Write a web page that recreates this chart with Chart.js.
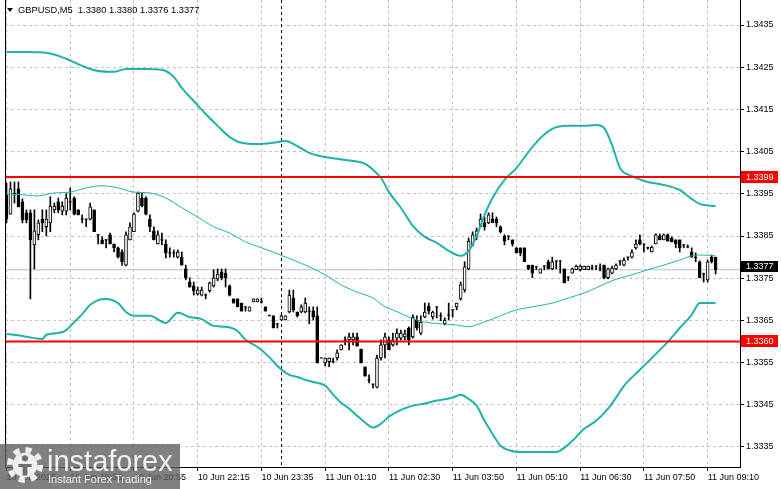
<!DOCTYPE html>
<html><head><meta charset="utf-8">
<script src="https://cdn.jsdelivr.net/npm/chart.js@4.4.1/dist/chart.umd.min.js"></script>
<style>
html,body{margin:0;padding:0;background:#fff;overflow:hidden;}
#wrap{position:relative;width:781px;height:489px;}
canvas{position:absolute;left:0;top:0;}
#title{position:absolute;left:7px;top:5px;font:9.3px 'Liberation Sans',Arial,sans-serif;color:#000;white-space:pre;line-height:11px;}
#title .tri{display:inline-block;width:0;height:0;border-left:3px solid transparent;border-right:3px solid transparent;border-top:4px solid #000;margin-right:5px;vertical-align:1px;}
#wm{position:absolute;left:0;top:444px;width:180px;height:45px;background:rgba(96,96,96,0.8);}
#wm svg{position:absolute;left:6px;top:2px;}
#wm .big{position:absolute;left:47px;top:3px;font:29px 'Liberation Sans',Arial,sans-serif;line-height:28px;color:#f2f2f2;white-space:nowrap;}
#wm .small{position:absolute;left:48px;top:29px;font:11px 'Liberation Sans',Arial,sans-serif;line-height:12px;color:#eeeeee;white-space:nowrap;}
</style></head>
<body>
<div id="wrap">
<canvas id="c" width="781" height="489"></canvas>
<div id="title"></div>
<div id="wm">
<svg width="38" height="38" viewBox="0 0 40 40">
<circle cx="20" cy="20" r="16" fill="none" stroke="#efefef" stroke-width="6" stroke-dasharray="6.3 6.27"/>
<circle cx="20" cy="20" r="13" fill="#efefef"/>
<circle cx="20" cy="13" r="3.2" fill="#6e6e6e"/>
<path d="M13 19 h14 v3 h-4.5 v9 h-5 v-9 h-4.5 z" fill="#6e6e6e"/>
</svg>
<div class="big">instaforex</div>
<div class="small">Instant Forex Trading</div>
</div>
</div>
<script>
// ---------- DATA ----------
const symbol = 'GBPUSD';
const timeframe = 'M5';

const openP = [1.33947,1.33902,1.33952,1.33962,1.33931,1.33905,1.33905,1.33829,1.33853,1.33890,
1.33872,1.33881,1.33912,1.33931,1.33909,1.33909,1.33931,1.33940,1.33912,1.33890,
1.33890,1.33890,1.33912,1.33853,1.33841,1.33841,1.33853,1.33831,1.33822,1.33812,
1.33781,1.33841,1.33860,1.33909,1.33940,1.33940,1.33890,1.33862,1.33831,1.33841,
1.33831,1.33810,1.33810,1.33800,1.33800,1.33772,1.33741,1.33732,1.33713,1.33710,
1.33710,1.33720,1.33732,1.33748,1.33765,1.33762,1.33732,1.33701,1.33701,1.33691,
1.33682,1.33672,1.33694,1.33694,1.33694,1.33682,1.33661,1.33661,1.33642,1.33651,
1.33651,1.33670,1.33703,1.33670,1.33670,1.33670,1.33672,1.33672,1.33661,1.33561,
1.33549,1.33552,1.33552,1.33561,1.33580,1.33604,1.33604,1.33604,1.33611,1.33582,
1.33540,1.33509,1.33499,1.33492,1.33561,1.33592,1.33604,1.33592,1.33608,1.33608,
1.33611,1.33632,1.33611,1.33651,1.33620,1.33658,1.33684,1.33658,1.33682,1.33661,
1.33642,1.33663,1.33675,1.33682,1.33701,1.33722,1.33772,1.33829,1.33848,1.33872,
1.33881,1.33881,1.33890,1.33890,1.33872,1.33850,1.33850,1.33841,1.33822,1.33822,
1.33822,1.33781,1.33781,1.33777,1.33762,1.33779,1.33789,1.33772,1.33791,1.33791,
1.33772,1.33753,1.33762,1.33770,1.33770,1.33770,1.33770,1.33774,1.33779,1.33774,
1.33781,1.33751,1.33762,1.33772,1.33791,1.33781,1.33800,1.33800,1.33822,1.33841,
1.33831,1.33822,1.33812,1.33831,1.33850,1.33841,1.33853,1.33845,1.33841,1.33841,
1.33829,1.33824,1.33812,1.33800,1.33789,1.33760,1.33746,1.33800,1.3380];

const highP = [1.33976,1.33978,1.33978,1.33978,1.33938,1.33912,1.33912,1.33912,1.33888,1.33912,
1.33912,1.33943,1.33928,1.33940,1.33931,1.33950,1.33964,1.33943,1.33912,1.33900,
1.33890,1.33928,1.33912,1.33853,1.33848,1.33841,1.33857,1.33831,1.33824,1.33817,
1.33860,1.33881,1.33905,1.33954,1.33952,1.33943,1.33900,1.33872,1.33862,1.33857,
1.33841,1.33822,1.33817,1.33817,1.33812,1.33781,1.33751,1.33741,1.33729,1.33729,
1.33713,1.33741,1.33770,1.33772,1.33772,1.33772,1.33734,1.33701,1.33701,1.33691,
1.33682,1.33682,1.33701,1.33701,1.33703,1.33682,1.33663,1.33661,1.33642,1.33663,
1.33661,1.33722,1.33722,1.33670,1.33687,1.33703,1.33682,1.33682,1.33682,1.33561,
1.33561,1.33561,1.33561,1.33580,1.33592,1.33611,1.33620,1.33620,1.33620,1.33582,
1.33540,1.33521,1.33499,1.33568,1.33604,1.33620,1.33611,1.33620,1.33630,1.33627,
1.33627,1.33635,1.33663,1.33661,1.33661,1.33691,1.33691,1.33672,1.33682,1.33668,
1.33656,1.33691,1.33675,1.33691,1.33741,1.33789,1.33845,1.33860,1.33869,1.33902,
1.33895,1.33905,1.33905,1.33895,1.33874,1.33853,1.33850,1.33841,1.33822,1.33822,
1.33822,1.33781,1.33781,1.33777,1.33772,1.33779,1.33793,1.33800,1.33791,1.33791,
1.33772,1.33753,1.33774,1.33781,1.33781,1.33779,1.33779,1.33781,1.33779,1.33784,
1.33781,1.33774,1.33779,1.33784,1.33791,1.33798,1.33800,1.33817,1.33841,1.33853,
1.33831,1.33824,1.33826,1.33855,1.33855,1.33855,1.33855,1.33848,1.33841,1.33841,
1.33829,1.33829,1.33822,1.33810,1.33791,1.33762,1.33793,1.33805,1.3380];

const lowP = [1.33881,1.33902,1.33928,1.33919,1.33881,1.33881,1.33701,1.33772,1.33841,1.33860,
1.33850,1.33860,1.33905,1.33905,1.33900,1.33900,1.33912,1.33900,1.33900,1.33881,
1.33872,1.33888,1.33860,1.33831,1.33831,1.33822,1.33831,1.33812,1.33798,1.33781,
1.33779,1.33841,1.33860,1.33907,1.33919,1.33900,1.33860,1.33841,1.33831,1.33829,
1.33798,1.33800,1.33800,1.33798,1.33781,1.33746,1.33729,1.33710,1.33710,1.33708,
1.33701,1.33717,1.33729,1.33744,1.33746,1.33729,1.33708,1.33691,1.33682,1.33672,
1.33672,1.33672,1.33694,1.33694,1.33691,1.33672,1.33661,1.33632,1.33632,1.33651,
1.33651,1.33668,1.33670,1.33658,1.33668,1.33668,1.33642,1.33651,1.33549,1.33561,
1.33542,1.33540,1.33549,1.33556,1.33580,1.33592,1.33580,1.33592,1.33589,1.33549,
1.33518,1.33502,1.33490,1.33490,1.33556,1.33561,1.33580,1.33589,1.33592,1.33604,
1.33604,1.33592,1.33608,1.33627,1.33616,1.33656,1.33665,1.33653,1.33656,1.33649,
1.33639,1.33651,1.33658,1.33675,1.33698,1.33717,1.33770,1.33826,1.33841,1.33872,
1.33864,1.33879,1.33886,1.33872,1.33857,1.33829,1.33841,1.33826,1.33810,1.33803,
1.33789,1.33770,1.33751,1.33770,1.33762,1.33770,1.33772,1.33770,1.33772,1.33762,
1.33739,1.33744,1.33762,1.33770,1.33767,1.33770,1.33770,1.33770,1.33770,1.33767,
1.33748,1.33748,1.33760,1.33770,1.33781,1.33779,1.33793,1.33798,1.33819,1.33829,
1.33812,1.33819,1.33812,1.33831,1.33841,1.33841,1.33838,1.33836,1.33822,1.33812,
1.33822,1.33822,1.33800,1.33789,1.33751,1.33741,1.33741,1.33786,1.3376];

const closeP = [1.33890,1.33962,1.33950,1.33919,1.33888,1.33888,1.33841,1.33862,1.33881,1.33881,
1.33890,1.33921,1.33921,1.33912,1.33921,1.33940,1.33931,1.33902,1.33900,1.33890,
1.33890,1.33919,1.33860,1.33853,1.33831,1.33841,1.33831,1.33822,1.33800,1.33789,
1.33853,1.33872,1.33902,1.33952,1.33921,1.33902,1.33872,1.33841,1.33853,1.33841,
1.33810,1.33810,1.33810,1.33812,1.33781,1.33751,1.33729,1.33720,1.33722,1.33722,
1.33710,1.33739,1.33751,1.33760,1.33751,1.33751,1.33710,1.33691,1.33682,1.33672,
1.33682,1.33682,1.33701,1.33701,1.33694,1.33672,1.33661,1.33632,1.33642,1.33661,
1.33661,1.33710,1.33675,1.33661,1.33682,1.33691,1.33672,1.33658,1.33549,1.33561,
1.33561,1.33561,1.33552,1.33573,1.33592,1.33604,1.33611,1.33611,1.33589,1.33549,
1.33518,1.33509,1.33499,1.33561,1.33592,1.33611,1.33580,1.33604,1.33620,1.33620,
1.33618,1.33604,1.33658,1.33632,1.33646,1.33670,1.33672,1.33670,1.33682,1.33661,
1.33651,1.33663,1.33675,1.33691,1.33734,1.33777,1.33838,1.33853,1.33862,1.33890,
1.33872,1.33900,1.33881,1.33881,1.33860,1.33838,1.33850,1.33831,1.33810,1.33810,
1.33789,1.33772,1.33762,1.33777,1.33772,1.33779,1.33772,1.33789,1.33791,1.33791,
1.33739,1.33753,1.33772,1.33779,1.33779,1.33779,1.33779,1.33774,1.33779,1.33774,
1.33751,1.33772,1.33774,1.33781,1.33791,1.33793,1.33800,1.33812,1.33831,1.33831,
1.33831,1.33822,1.33824,1.33853,1.33841,1.33853,1.33838,1.33836,1.33831,1.33822,
1.33829,1.33824,1.33800,1.33798,1.33751,1.33760,1.33789,1.33789,1.3377];

// Bollinger bands: [bar index, price]
const upperBand = [[0,1.34286],[5,1.34286],[10,1.34284],[15,1.34270],[19,1.34253],[23,1.34241],[27,1.34239],[30,1.34246],[35,1.34246],[39,1.34244],[42,1.34227],[44,1.34201],[47,1.34170],[50,1.34139],[53,1.34111],[56,1.34085],[59,1.34071],[63,1.34068],[67,1.34071],[70,1.34075],[73,1.34063],[76,1.34047],[80,1.34037],[85,1.34030],[90,1.34021],[92,1.34007],[94,1.33988],[96,1.33954],[99,1.33917],[102,1.33874],[105,1.33848],[108,1.33834],[111,1.33815],[114,1.33803],[116,1.33815],[118,1.33850],[120,1.33900],[122,1.33940],[125,1.33983],[128,1.34011],[131,1.34049],[134,1.34082],[137,1.34104],[141,1.34111],[145,1.34111],[148,1.34113],[150,1.34106],[152,1.34066],[154,1.34011],[157,1.33992],[161,1.33978],[165,1.33971],[169,1.33959],[172,1.33938],[174,1.33926],[178,1.33921]];
const middleBand = [[0,1.33950],[5,1.33947],[8,1.33945],[12,1.33952],[16,1.33954],[20,1.33964],[24,1.33969],[28,1.33964],[32,1.33954],[36,1.33952],[40,1.33940],[44,1.33917],[48,1.33895],[52,1.33872],[56,1.33857],[60,1.33836],[64,1.33822],[68,1.33808],[72,1.33793],[76,1.33777],[80,1.33758],[84,1.33734],[88,1.33717],[92,1.33703],[95,1.33682],[97,1.33675],[101,1.33658],[105,1.33646],[109,1.33642],[113,1.33639],[116,1.33635],[120,1.33646],[124,1.33661],[128,1.33675],[132,1.33682],[137,1.33691],[141,1.33703],[145,1.33715],[148,1.33727],[152,1.33744],[157,1.33758],[161,1.33770],[165,1.33781],[169,1.33793],[172,1.33803],[174,1.33805],[178,1.33803]];
const lowerBand = [[0,1.33618],[4,1.33613],[7,1.33608],[9,1.33606],[10,1.33616],[13,1.33620],[15,1.33627],[17,1.33646],[19,1.33665],[21,1.33687],[23,1.33698],[25,1.33701],[28,1.33691],[30,1.33670],[32,1.33661],[36,1.33661],[40,1.33644],[43,1.33668],[46,1.33658],[49,1.33653],[52,1.33637],[55,1.33635],[58,1.33625],[60,1.33604],[63,1.33587],[66,1.33563],[68,1.33542],[71,1.33521],[73,1.33516],[75,1.33509],[77,1.33504],[80,1.33495],[82,1.33474],[84,1.33455],[86,1.33441],[88,1.33424],[90,1.33408],[92,1.33396],[94,1.33405],[96,1.33422],[99,1.33438],[102,1.33448],[105,1.33453],[108,1.33460],[112,1.33467],[114,1.33474],[116,1.33464],[118,1.33448],[120,1.33412],[122,1.33381],[124,1.33353],[126,1.33343],[129,1.33338],[138,1.33338],[140,1.33348],[142,1.33364],[145,1.33393],[148,1.33412],[151,1.33441],[153,1.33467],[155,1.33495],[159,1.33533],[162,1.33561],[166,1.33599],[169,1.33632],[172,1.33663],[174,1.33691],[178,1.33691]];

const levelLines = [1.3399, 1.3360];
const priceTicks = [1.3335,1.3345,1.3355,1.3365,1.3375,1.3385,1.3395,1.3405,1.3415,1.3425,1.3435];
const timeTickIdx = [0,16,32,48,64,80,96,112,128,144,160,176];
const timeLabels = ['10 Jun 2025','10 Jun 19:35','10 Jun 20:55','10 Jun 22:15','10 Jun 23:35','11 Jun 01:10','11 Jun 02:30','11 Jun 03:50','11 Jun 05:10','11 Jun 06:30','11 Jun 07:50','11 Jun 09:10'];
const dayBreakIdx = 69;

// ---------- VIEW ----------
const X_MIN = -0.375, X_MAX = 184.125;
const Y_MIN = 1.333026, Y_MAX = 1.343974;
const N = closeP.length;
const last = N - 1;
const curPrice = closeP[last];

document.getElementById('title').innerHTML = '<span class="tri"></span>' +
  symbol + ',' + timeframe + '  ' + [openP[last], highP[last], lowP[last], closeP[last]].map(v => v.toFixed(4)).join(' ');

const idx = [...Array(N).keys()];
const wickData = idx.map(i => ({x: i, y: [lowP[i], highP[i]]}));
const bodyData = idx.map(i => ({x: i, y: [openP[i], closeP[i]]}));
const bodyColors = idx.map(i => closeP[i] > openP[i] ? '#ffffff' : '#000000');
const dojiData = idx.filter(i => openP[i] === closeP[i]).map(i => ({x: i, y: closeP[i]}));
const toPts = arr => arr.map(p => ({x: p[0], y: p[1]}));
const hLine = v => [{x: X_MIN, y: v}, {x: X_MAX, y: v}];

Chart.defaults.font.family = "'Liberation Sans', Arial, sans-serif";
Chart.defaults.font.size = 9;
Chart.defaults.color = '#000';

const TEAL = '#20b2aa';

const overlay = {
  id: 'overlay',
  beforeDatasetsDraw(chart) {
    const {ctx, chartArea: a, scales: {x}} = chart;
    ctx.save();
    ctx.lineWidth = 1;
    ctx.strokeStyle = '#c4c4c4'; ctx.setLineDash([3, 3]);
    timeTickIdx.forEach(t => {
      const gx = Math.floor(x.getPixelForValue(t)) + 0.5;
      ctx.beginPath(); ctx.moveTo(gx, 0); ctx.lineTo(gx, a.top); ctx.stroke();
    });
    const px = Math.floor(x.getPixelForValue(dayBreakIdx)) + 0.5;
    ctx.strokeStyle = '#000';
    ctx.beginPath(); ctx.moveTo(px, 0); ctx.lineTo(px, a.bottom); ctx.stroke();
    ctx.restore();
  },
  afterDraw(chart) {
    const {ctx, chartArea: a, scales: {y}} = chart;
    ctx.save();
    ctx.strokeStyle = '#000'; ctx.lineWidth = 1;
    ctx.beginPath(); ctx.moveTo(a.left + 0.5, 0); ctx.lineTo(a.left + 0.5, a.bottom); ctx.stroke();
    ctx.beginPath(); ctx.moveTo(a.right + 0.5, 0); ctx.lineTo(a.right + 0.5, a.bottom); ctx.stroke();
    ctx.font = "9px 'Liberation Sans', Arial, sans-serif";
    ctx.textBaseline = 'middle'; ctx.textAlign = 'left';
    levelLines.forEach(v => {
      const py = Math.round(y.getPixelForValue(v));
      ctx.fillStyle = '#ff0000';
      ctx.fillRect(a.right + 1, py - 6, 37, 12);
      ctx.fillStyle = '#ffffff';
      ctx.fillText(v.toFixed(4), a.right + 6, py + 0.5);
    });
    const cy = Math.round(y.getPixelForValue(curPrice)) - 4;
    ctx.fillStyle = '#000';
    ctx.fillRect(a.right + 1, cy - 5, 37, 11);
    ctx.fillStyle = '#fff';
    ctx.fillText(curPrice.toFixed(4), a.right + 6, cy + 0.5);
    ctx.restore();
  }
};

new Chart(document.getElementById('c'), {
  type: 'bar',
  data: {
    datasets: [
      {type: 'line', data: hLine(levelLines[0]), borderColor: '#ff0000', borderWidth: 2, pointRadius: 0, order: 0},
      {type: 'line', data: hLine(levelLines[1]), borderColor: '#ff0000', borderWidth: 2, pointRadius: 0, order: 0},
      {type: 'line', data: toPts(upperBand), borderColor: TEAL, borderWidth: 2, pointRadius: 0, cubicInterpolationMode: 'monotone', order: 1},
      {type: 'line', data: toPts(middleBand), borderColor: TEAL, borderWidth: 1, pointRadius: 0, cubicInterpolationMode: 'monotone', order: 1},
      {type: 'line', data: toPts(lowerBand), borderColor: TEAL, borderWidth: 2, pointRadius: 0, cubicInterpolationMode: 'monotone', order: 1},
      {type: 'scatter', data: dojiData, pointStyle: 'line', pointRadius: 1.5, borderColor: '#000', borderWidth: 1, order: 2},
      {type: 'bar', data: bodyData, backgroundColor: bodyColors, borderColor: '#000', borderWidth: 1, borderSkipped: false, barThickness: 3, grouped: false, order: 3},
      {type: 'bar', data: wickData, backgroundColor: '#000', borderWidth: 0, barThickness: 1, grouped: false, order: 4},
      {type: 'line', data: hLine(curPrice), borderColor: '#c0c0c0', borderWidth: 1, pointRadius: 0, order: 5}
    ]
  },
  options: {
    responsive: false,
    animation: false,
    devicePixelRatio: 1,
    events: [],
    layout: {padding: {top: 2, left: 2, right: 0, bottom: 0}},
    plugins: {legend: {display: false}, tooltip: {enabled: false}},
    scales: {
      x: {
        type: 'linear', min: X_MIN, max: X_MAX, offset: false,
        afterFit: s => { s.height = 22; s.paddingLeft = 0; s.paddingRight = 0; },
        afterBuildTicks: s => { s.ticks = timeTickIdx.map(v => ({value: v})); },
        grid: {color: '#c4c4c4', offset: false, tickColor: '#000', tickLength: 4, tickBorderDash: []},
        border: {color: '#000', width: 1, dash: [3, 3]},
        ticks: {
          autoSkip: false, maxRotation: 0, minRotation: 0, align: 'start', padding: 1,
          color: '#000', font: {size: 9},
          callback: v => { const k = timeTickIdx.indexOf(v); return k >= 0 ? timeLabels[k] : ''; }
        }
      },
      y: {
        type: 'linear', position: 'right', min: Y_MIN, max: Y_MAX,
        afterFit: s => { s.width = 41; s.paddingTop = 0; s.paddingBottom = 0; },
        afterBuildTicks: s => { s.ticks = priceTicks.map(v => ({value: v})); },
        grid: {color: '#c4c4c4', tickColor: '#000', tickLength: 4, tickBorderDash: []},
        border: {color: '#000', width: 1, dash: [3, 3]},
        ticks: {padding: 2, color: '#000', font: {size: 9, lineHeight: 0.4}, callback: v => Number(v).toFixed(4)}
      }
    }
  },
  plugins: [overlay]
});
</script>
</body></html>
